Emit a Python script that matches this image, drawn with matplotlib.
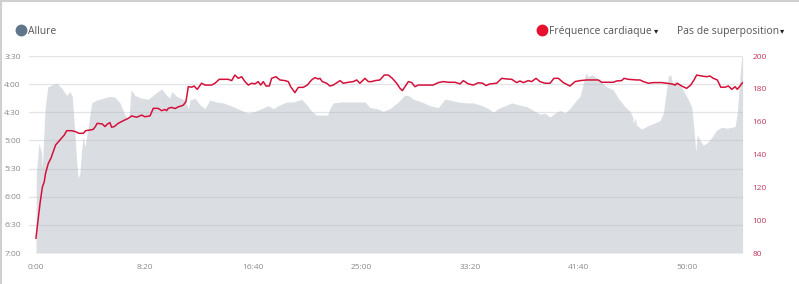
import matplotlib
matplotlib.use('Agg')
import matplotlib.pyplot as plt
from matplotlib.lines import Line2D
import numpy as np

# pace (sec per km) against elapsed minutes
pace_t = [0.0, 0.03, 0.23, 0.36, 0.42, 0.49, 0.69, 0.9, 1.2, 1.59, 1.97, 2.36, 2.61, 2.79,
          2.94, 3.12, 3.25, 3.38, 3.51, 3.63, 3.76, 4.02, 4.28, 4.66, 5.17, 5.68, 6.07, 6.45,
          6.84, 7.14, 7.3, 7.6, 8.12, 8.63, 9.27, 9.65, 10.04, 10.29, 10.42, 10.8, 11.44, 11.7,
          11.83, 12.21, 12.6, 12.98, 13.36, 13.88, 14.39, 15.15, 15.8, 16.31, 16.82, 17.33,
          17.84, 18.23, 18.74, 19.25, 19.76, 20.4, 20.8, 21.17, 21.56, 22.4, 22.58, 22.83,
          23.48, 23.99, 24.5, 25.27, 25.65, 26.16, 26.67, 27.19, 27.83, 28.29, 28.6, 28.98,
          29.62, 30.26, 30.9, 31.41, 31.8, 32.43, 33.08, 33.59, 34.1, 34.74, 35.13, 35.51,
          36.02, 36.54, 37.04, 37.69, 38.2, 38.71, 39.1, 39.48, 39.86, 40.25, 40.63, 41.0,
          41.4, 41.78, 42.04, 42.24, 42.42, 42.68, 42.93, 43.32, 43.83, 44.34, 44.72, 45.24,
          45.62, 45.83, 45.88, 46.01, 46.14, 46.52, 46.9, 47.41, 47.93, 48.18, 48.39, 48.57,
          48.75, 48.9, 49.08, 49.33, 49.59, 49.97, 50.36, 50.54, 50.67, 50.79, 51.0, 51.25,
          51.51, 51.9, 52.28, 52.67, 53.05, 53.44, 53.69, 53.86, 54.02, 54.2, 54.27]
pace_s = [420, 335, 303, 310, 312, 330, 268, 243, 241, 239, 244, 252, 248, 253,
          282, 321, 340, 335, 310, 296, 307, 285, 260, 257, 255, 253, 254, 260,
          273, 278, 246, 252, 255, 256, 249, 245, 252, 255, 248, 253, 257, 266,
          257, 255, 262, 266, 257, 259, 260, 264, 268, 271, 269, 266,
          263, 266, 262, 259, 259, 256, 262, 269, 273, 273, 266, 260,
          259, 259, 259, 259, 265, 266, 269, 266, 259, 252, 252, 256,
          259, 263, 265, 256, 257, 259, 260, 260, 262, 266, 270, 266,
          263, 260, 262, 264, 268, 272, 271, 275, 271, 268, 271, 266,
          259, 253, 239, 228, 232, 230, 232, 237, 243, 246, 255, 264,
          269, 275, 282, 276, 284, 288, 285, 282, 279, 271, 250, 231,
          230, 239, 237, 239, 244, 253, 264, 289, 312, 294, 300, 305,
          303, 297, 289, 286, 287, 286, 285, 271, 239, 211, 211]

# heart rate (bpm) against elapsed minutes
hr_t = [0.0, 0.13, 0.31, 0.49, 0.64, 0.74, 0.95, 1.15, 1.33, 1.51, 1.84, 2.18, 2.36, 2.74,
        3.05, 3.3, 3.64, 3.81, 4.15, 4.4, 4.53, 4.71, 5.09, 5.3, 5.5, 5.68, 5.81, 6.01, 6.32,
        6.71, 7.09, 7.35, 7.73, 8.12, 8.37, 8.76, 9.01, 9.39, 9.65, 9.91, 10.04, 10.16, 10.42,
        10.68, 10.93, 11.31, 11.52, 11.7, 11.96, 12.14, 12.39, 12.72, 12.98, 13.49, 13.75,
        14.08, 14.77, 15.03, 15.28, 15.54, 15.8, 16.05, 16.31, 16.57, 16.82, 17.07, 17.26,
        17.46, 17.67, 17.92, 18.1, 18.43, 18.74, 19.12, 19.38, 19.56, 19.89, 20.15, 20.53,
        20.84, 21.17, 21.43, 21.68, 21.81, 21.99, 22.33, 22.58, 22.83, 23.1, 23.35, 23.6,
        23.99, 24.37, 24.63, 24.88, 25.27, 25.52, 25.78, 26.04, 26.42, 26.75, 27.06, 27.37,
        27.7, 27.96, 28.14, 28.34, 28.6, 28.86, 29.11, 29.36, 29.88, 30.51, 30.9, 31.28,
        31.67, 32.18, 32.57, 32.82, 33.2, 33.59, 33.97, 34.31, 34.56, 34.87, 35.38, 35.77,
        36.15, 36.54, 36.92, 37.17, 37.43, 37.81, 38.07, 38.4, 38.71, 39.1, 39.48, 39.78,
        40.12, 40.5, 41.01, 41.4, 41.78, 42.3, 42.8, 43.19, 43.45, 43.96, 44.34, 44.6, 44.98,
        45.16, 45.49, 46.14, 46.39, 46.65, 47.03, 47.41, 48.06, 48.44, 48.83, 49.08, 49.26,
        49.59, 49.97, 50.28, 50.54, 50.74, 51.13, 51.51, 51.77, 52.02, 52.33, 52.59, 52.92,
        53.18, 53.44, 53.69, 53.86, 54.07, 54.27]
hr_bpm = [89, 98, 110, 120, 123.5, 128.6, 134.6, 137.7, 141.7, 145.8, 148.8, 151.9, 154.5, 154.5,
          153.9, 152.9, 152.9, 154.5, 154.9, 155.3, 156.6, 159, 158.6, 157, 158.6, 159.4, 156.6, 157, 159,
          160.6, 162, 163.5, 162.7, 164, 163, 163.5, 168.1, 168.1, 166.7, 167.4, 166.7, 168.1, 168.7,
          168, 169, 170, 172.2, 181.3, 181, 181.7, 179.7, 183.4, 182.3, 182.3, 183.4,
          185.8, 185.8, 185, 188.4, 186.4, 187.4, 184.4, 182.3, 183.4, 183, 184.4, 182.3,
          184.4, 181.7, 181.7, 186.4, 187.4, 185.4, 185, 184.4, 181.3, 177.7, 180.9, 180.9,
          182.3, 185.4, 186.8, 186, 186.4, 184.4, 183.4, 181.7, 182.3, 183.7, 185, 183.4,
          184, 184.4, 185.4, 183.4, 186.4, 184.4, 184.4, 185, 185.4, 188.4, 188.4, 186.4,
          183.4, 180.3, 178.9, 181.3, 184.4, 183.8, 181.3, 182.3, 182.3, 182.3, 183.8, 184.4,
          184, 184, 183, 185, 183, 182.3, 183.7, 183.4, 182, 183, 183.4, 186.4,
          186, 185.8, 183.8, 184.8, 183.8, 185, 184.4, 186.4, 184.4, 183.4, 183.4, 186.4,
          186.4, 183.8, 181.7, 184.4, 185, 185.4, 185.4, 185.4, 184, 184, 184, 184.8, 185,
          186.4, 185.8, 185.4, 185.4, 184.4, 183.4, 183.8, 183.8, 183.4, 183, 182.3, 183.4,
          181.7, 180.3, 182.3, 185.4, 188.4, 187.8, 187.4, 187.8, 186.4, 185.4, 181, 181,
          181.7, 179.7, 181.3, 179.7, 181.7, 183.8]

pace_ticks = [210, 240, 270, 300, 330, 360, 390, 420]
hr_ticks = [80, 100, 120, 140, 160, 180, 200]
x_ticks = [0, 500, 1000, 1500, 2000, 2500, 3000]

FONT = ['Open Sans', 'DejaVu Sans']
plt.rcParams['font.family'] = FONT


def mmss(s):
    return '%d:%02d' % (s // 60, s % 60)


fig = plt.figure(figsize=(7.99, 2.84), dpi=100)
ax = fig.add_axes([29 / 799, 1 - 253 / 284, (743 - 29) / 799, (253 - 56) / 284])

tp = np.array(pace_t) * 60
ax.fill_between(tp, pace_s, 420, color='#dadee2', lw=0, zorder=1)
ax.set_ylim(420, 210)
ax.set_xlim(-32, 3258)
ax.set_yticks(pace_ticks)
ax.set_yticklabels([mmss(v) for v in pace_ticks])
ax.set_xticks(x_ticks)
ax.set_xticklabels([mmss(v) for v in x_ticks])
ax.set_axisbelow(False)
ax.grid(axis='y', color='#b8bcc0', alpha=0.4, lw=0.9)
ax.grid(axis='x', visible=False)
for sp in ax.spines.values():
    sp.set_visible(False)
ax.tick_params(axis='both', length=0, labelsize=6, colors='#8a8a8a')
ax.tick_params(axis='y', pad=6)
ax.tick_params(axis='x', pad=8)

ax2 = ax.twinx()
ax2.plot(np.array(hr_t) * 60, hr_bpm, color='#d4113b', lw=1.1, zorder=3)
ax2.set_ylim(80, 200)
ax2.set_yticks(hr_ticks)
for sp in ax2.spines.values():
    sp.set_visible(False)
ax2.tick_params(axis='y', length=0, labelsize=6, colors='#c0385a', pad=7)

# legend / header
hy = 1 - 30 / 284
fig.add_artist(Line2D([21 / 799], [hy], transform=fig.transFigure, marker='o', ms=7.5,
                      color='#60748a', lw=0))
fig.text(28 / 799, hy, 'Allure', color='#555555', fontsize=7.5, va='center_baseline')
fig.add_artist(Line2D([542 / 799], [hy], transform=fig.transFigure, marker='o', ms=7.5,
                      color='#e8102f', lw=0))
fig.text(549 / 799, hy, 'Fréquence cardiaque', color='#555555', fontsize=7.5, va='center_baseline')
fig.text(654 / 799, hy, '\u25be', color='#222222', fontsize=6, va='center_baseline',
         family=['DejaVu Sans'])
fig.text(677 / 799, hy, 'Pas de superposition', color='#555555', fontsize=7.5, va='center_baseline')
fig.text(780 / 799, hy, '\u25be', color='#222222', fontsize=6, va='center_baseline',
         family=['DejaVu Sans'])

# frame lines at top and left of the panel
fig.add_artist(Line2D([0, 1], [0.997, 0.997], transform=fig.transFigure, color='#d0d0d0', lw=1.5))
fig.add_artist(Line2D([0.001, 0.001], [0, 1], transform=fig.transFigure, color='#d0d0d0', lw=1.5))

fig.savefig('out.png', dpi=100)
